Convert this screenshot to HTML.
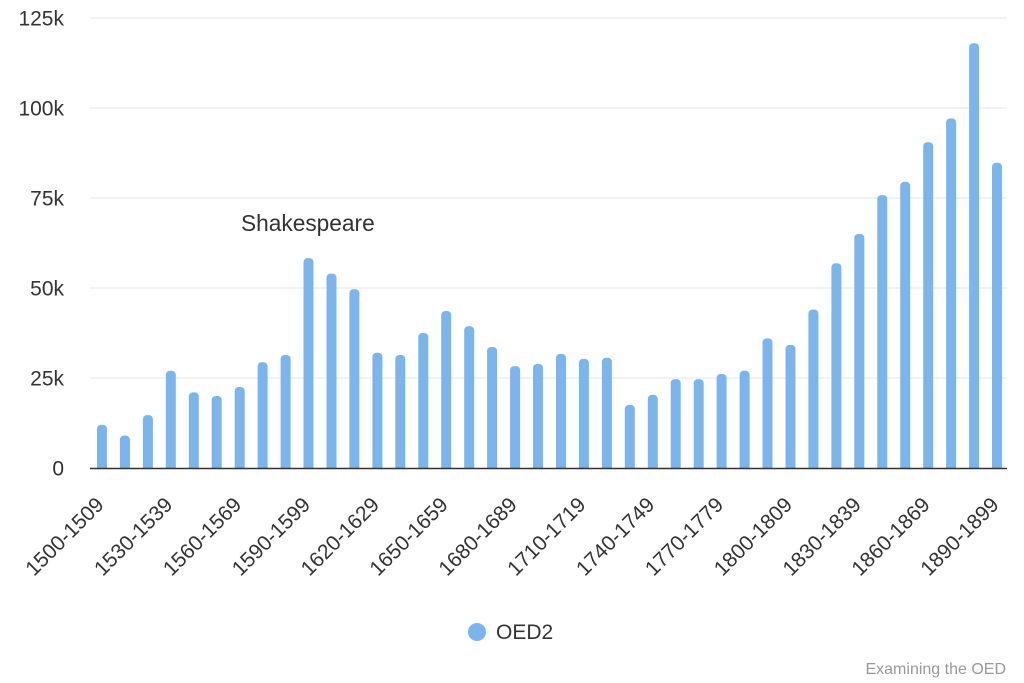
<!DOCTYPE html>
<html><head><meta charset="utf-8"><style>
html,body{margin:0;padding:0;background:#fff;}
svg{display:block;font-family:"Liberation Sans",Arial,sans-serif;}
</style></head><body>
<svg width="1024" height="683" viewBox="0 0 1024 683" xmlns="http://www.w3.org/2000/svg">
<g stroke="#e6e6e6" stroke-width="1">
<line x1="90" y1="18" x2="1007" y2="18"/>
<line x1="90" y1="108" x2="1007" y2="108"/>
<line x1="90" y1="198" x2="1007" y2="198"/>
<line x1="90" y1="288" x2="1007" y2="288"/>
<line x1="90" y1="378" x2="1007" y2="378"/>
</g>
<g fill="#333" font-size="21" text-anchor="end">
<text x="64" y="25.5">125k</text>
<text x="64" y="115.5">100k</text>
<text x="64" y="205.5">75k</text>
<text x="64" y="295.5">50k</text>
<text x="64" y="385.5">25k</text>
<text x="64" y="475.5">0</text>
</g>
<g fill="#7cb5ec">
<rect x="97" y="424.8" width="10" height="50" rx="4"/>
<rect x="119.9" y="435.6" width="10" height="40" rx="4"/>
<rect x="142.9" y="415.1" width="10" height="60" rx="4"/>
<rect x="165.8" y="370.8" width="10" height="104" rx="4"/>
<rect x="188.8" y="392.4" width="10" height="83" rx="4"/>
<rect x="211.7" y="396" width="10" height="79" rx="4"/>
<rect x="234.7" y="387" width="10" height="88" rx="4"/>
<rect x="257.6" y="362.2" width="10" height="113" rx="4"/>
<rect x="280.6" y="355" width="10" height="120" rx="4"/>
<rect x="303.5" y="258.1" width="10" height="217" rx="4"/>
<rect x="326.5" y="273.6" width="10" height="202" rx="4"/>
<rect x="349.4" y="289.1" width="10" height="186" rx="4"/>
<rect x="372.4" y="352.8" width="10" height="122" rx="4"/>
<rect x="395.3" y="355" width="10" height="120" rx="4"/>
<rect x="418.3" y="333" width="10" height="142" rx="4"/>
<rect x="441.2" y="311" width="10" height="164" rx="4"/>
<rect x="464.2" y="326.2" width="10" height="149" rx="4"/>
<rect x="487.1" y="347" width="10" height="128" rx="4"/>
<rect x="510.1" y="366.1" width="10" height="109" rx="4"/>
<rect x="533" y="364" width="10" height="111" rx="4"/>
<rect x="556" y="353.9" width="10" height="121" rx="4"/>
<rect x="578.9" y="358.9" width="10" height="116" rx="4"/>
<rect x="601.9" y="357.8" width="10" height="117" rx="4"/>
<rect x="624.8" y="405" width="10" height="70" rx="4"/>
<rect x="647.8" y="394.9" width="10" height="80" rx="4"/>
<rect x="670.7" y="379.1" width="10" height="96" rx="4"/>
<rect x="693.7" y="379.1" width="10" height="96" rx="4"/>
<rect x="716.6" y="374" width="10" height="101" rx="4"/>
<rect x="739.6" y="370.8" width="10" height="104" rx="4"/>
<rect x="762.5" y="338.4" width="10" height="137" rx="4"/>
<rect x="785.5" y="344.9" width="10" height="130" rx="4"/>
<rect x="808.4" y="309.6" width="10" height="165" rx="4"/>
<rect x="831.4" y="263.2" width="10" height="212" rx="4"/>
<rect x="854.3" y="234" width="10" height="241" rx="4"/>
<rect x="877.3" y="195.1" width="10" height="280" rx="4"/>
<rect x="900.2" y="181.8" width="10" height="293" rx="4"/>
<rect x="923.2" y="142.2" width="10" height="333" rx="4"/>
<rect x="946.1" y="118.4" width="10" height="357" rx="4"/>
<rect x="969.1" y="43.2" width="10" height="432" rx="4"/>
<rect x="992" y="162.7" width="10" height="312" rx="4"/>
</g>
<rect x="80" y="469" width="940" height="10" fill="#fff"/>
<line x1="90" y1="468.5" x2="1007" y2="468.5" stroke="#333" stroke-width="1.5"/>
<g fill="#333" font-size="21" text-anchor="end">
<text x="105" y="506" transform="rotate(-45 105 506)">1500-1509</text>
<text x="173.8" y="506" transform="rotate(-45 173.8 506)">1530-1539</text>
<text x="242.7" y="506" transform="rotate(-45 242.7 506)">1560-1569</text>
<text x="311.5" y="506" transform="rotate(-45 311.5 506)">1590-1599</text>
<text x="380.4" y="506" transform="rotate(-45 380.4 506)">1620-1629</text>
<text x="449.2" y="506" transform="rotate(-45 449.2 506)">1650-1659</text>
<text x="518.1" y="506" transform="rotate(-45 518.1 506)">1680-1689</text>
<text x="586.9" y="506" transform="rotate(-45 586.9 506)">1710-1719</text>
<text x="655.8" y="506" transform="rotate(-45 655.8 506)">1740-1749</text>
<text x="724.6" y="506" transform="rotate(-45 724.6 506)">1770-1779</text>
<text x="793.5" y="506" transform="rotate(-45 793.5 506)">1800-1809</text>
<text x="862.3" y="506" transform="rotate(-45 862.3 506)">1830-1839</text>
<text x="931.2" y="506" transform="rotate(-45 931.2 506)">1860-1869</text>
<text x="1000" y="506" transform="rotate(-45 1000 506)">1890-1899</text>
</g>
<text x="241" y="231" font-size="22.7" fill="#333">Shakespeare</text>
<circle cx="477" cy="632" r="9" fill="#7cb5ec"/>
<text x="496" y="639" font-size="21" fill="#333">OED2</text>
<text x="1006" y="674" font-size="16" fill="#999" text-anchor="end">Examining the OED</text>
</svg>
</body></html>
